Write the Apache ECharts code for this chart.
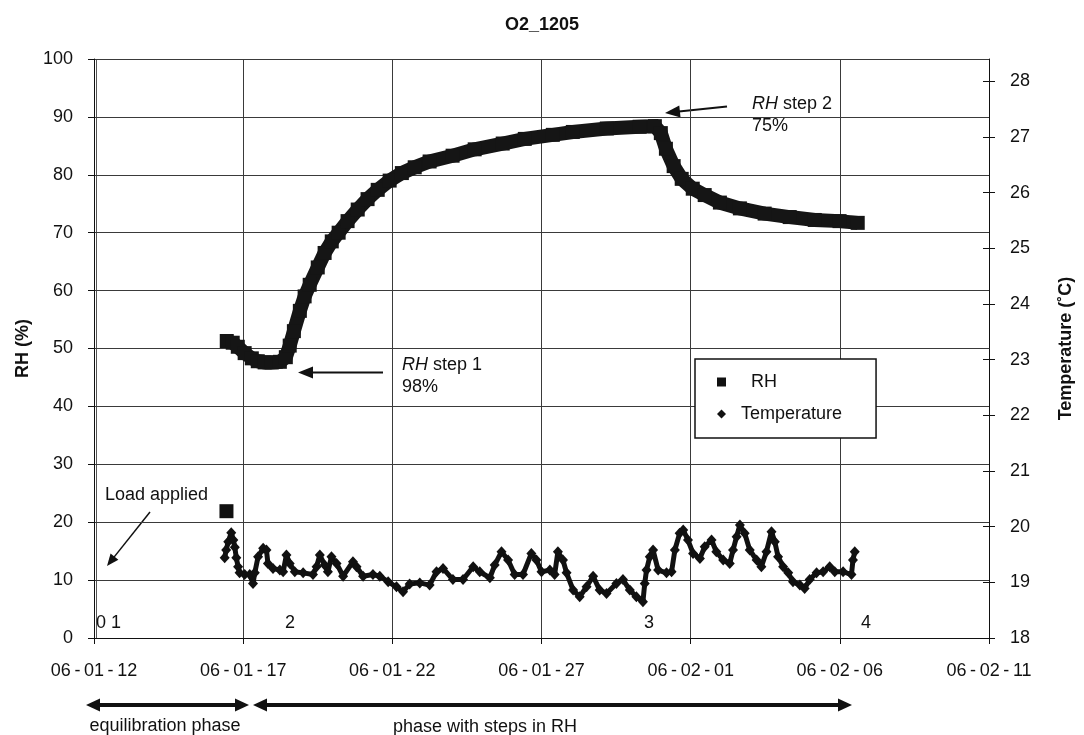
<!DOCTYPE html>
<html>
<head>
<meta charset="utf-8">
<title>O2_1205</title>
<script src="https://cdn.jsdelivr.net/npm/echarts@6/dist/echarts.min.js"></script>
<style>
  html, body { margin: 0; padding: 0; background: #fff; }
  #chart { width: 1084px; height: 735px; }
</style>
</head>
<body>
<div id="chart"></div>
<script>
// Date ticks every 5 days, starting 2006-01-12 (x values are days since that date)
const xTickLabels = ['06-01-12', '06-01-17', '06-01-22', '06-01-27', '06-02-01', '06-02-06', '06-02-11'];
const rhTicks = [0, 10, 20, 30, 40, 50, 60, 70, 80, 90, 100];
const tempTicks = [18, 19, 20, 21, 22, 23, 24, 25, 26, 27, 28];

// Relative humidity (%) in the specimen
const rhDays = [4.45, 4.65, 4.82, 5.05, 5.29, 5.49, 5.72, 5.96, 6.23, 6.43, 6.56, 6.70, 6.90, 7.06,
  7.23, 7.50, 7.73, 7.97, 8.20, 8.50, 8.84, 9.17, 9.51, 9.91, 10.32, 10.75, 11.25, 12.02, 12.76,
  13.70, 14.44, 15.38, 16.05, 17.19, 18.29, 18.80, 19.00, 19.17, 19.43, 19.70, 20.07, 20.47,
  20.98, 21.65, 22.48, 23.32, 24.16, 24.99, 25.60];
const rhValues = [51.3, 51.0, 50.3, 49.2, 48.3, 47.8, 47.6, 47.6, 47.7, 48.5, 50.5, 53.0, 56.5, 59.0,
  61.0, 64.0, 66.5, 68.5, 70.0, 72.0, 74.0, 75.8, 77.4, 79.0, 80.3, 81.3, 82.3, 83.3, 84.4,
  85.4, 86.2, 86.9, 87.4, 88.0, 88.3, 88.4, 87.2, 84.5, 81.5, 79.3, 77.6, 76.5,
  75.2, 74.2, 73.3, 72.7, 72.2, 72.0, 71.7];

// Single reading taken when the load was applied
const rhLoadDays = [4.44];
const rhLoadValues = [21.9];

// Temperature (°C)
const tempDays = [4.38, 4.43, 4.50, 4.60, 4.67, 4.72, 4.77, 4.83, 4.88, 5.05, 5.22, 5.33, 5.39, 5.50,
  5.67, 5.78, 5.83, 6.00, 6.23, 6.34, 6.45, 6.56, 6.73, 7.01, 7.34, 7.46, 7.57, 7.73, 7.84, 7.96,
  8.13, 8.35, 8.68, 8.80, 9.02, 9.35, 9.58, 9.86, 10.14, 10.36, 10.58, 10.92, 11.25, 11.48, 11.70,
  12.03, 12.37, 12.71, 12.93, 13.27, 13.43, 13.66, 13.88, 14.10, 14.38, 14.66, 14.83, 15.00, 15.28,
  15.44, 15.55, 15.72, 15.84, 16.06, 16.28, 16.51, 16.73, 16.95, 17.18, 17.51, 17.73, 17.96, 18.18,
  18.40, 18.46, 18.52, 18.63, 18.74, 18.91, 19.19, 19.36, 19.47, 19.63, 19.75, 19.91, 20.08, 20.31,
  20.47, 20.70, 20.86, 21.09, 21.31, 21.42, 21.54, 21.65, 21.81, 21.98, 22.21, 22.37, 22.54, 22.71,
  22.82, 22.93, 23.10, 23.27, 23.43, 23.66, 23.82, 23.99, 24.22, 24.44, 24.66, 24.83, 25.11, 25.39,
  25.44, 25.50];
const tempValues = [19.44, 19.58, 19.73, 19.89, 19.76, 19.63, 19.44, 19.28, 19.17, 19.14, 19.14, 18.98, 19.17, 19.46,
  19.61, 19.58, 19.34, 19.25, 19.22, 19.19, 19.49, 19.34, 19.19, 19.17, 19.14, 19.28, 19.49, 19.31, 19.19, 19.46,
  19.34, 19.11, 19.37, 19.28, 19.11, 19.14, 19.11, 19.01, 18.92, 18.83, 18.97, 18.99, 18.95, 19.19, 19.25,
  19.05, 19.05, 19.28, 19.19, 19.08, 19.31, 19.55, 19.40, 19.14, 19.14, 19.52, 19.40, 19.19, 19.22,
  19.14, 19.55, 19.40, 19.17, 18.86, 18.74, 18.92, 19.11, 18.86, 18.80, 18.98, 19.05, 18.86, 18.74,
  18.65, 18.98, 19.22, 19.46, 19.58, 19.22, 19.17, 19.19, 19.58, 19.88, 19.94, 19.76, 19.52, 19.43,
  19.64, 19.76, 19.55, 19.40, 19.34, 19.58, 19.82, 20.03, 19.88, 19.58, 19.40, 19.28, 19.55, 19.91,
  19.73, 19.46, 19.28, 19.17, 19.01, 18.95, 18.89, 19.05, 19.17, 19.19, 19.28, 19.19, 19.19, 19.14,
  19.40, 19.55];

const FONT = "'Liberation Sans', Arial, Helvetica, sans-serif";
const INK = '#111';

const zip = (xs, ys) => xs.map((x, i) => [x, ys[i]]);
const spacedDate = s => s.replace(/-/g, '\u2009-\u2009');

// Straight arrow with a filled head at (x2, y2); optional head at the start too
function arrow(x1, y1, x2, y2, width, headLen, headHalf, bothEnds) {
  const dx = x2 - x1, dy = y2 - y1, len = Math.hypot(dx, dy);
  const ux = dx / len, uy = dy / len, nx = -uy, ny = ux;
  const head = (tx, ty, sx, sy) => {
    const bx = tx - sx * headLen, by = ty - sy * headLen;
    return {
      type: 'polygon', silent: true,
      shape: { points: [[tx, ty], [bx + nx * headHalf, by + ny * headHalf], [bx - nx * headHalf, by - ny * headHalf]] },
      style: { fill: INK }
    };
  };
  const sx = bothEnds ? x1 + ux * (headLen - 1) : x1;
  const sy = bothEnds ? y1 + uy * (headLen - 1) : y1;
  const els = [
    { type: 'line', silent: true,
      shape: { x1: sx, y1: sy, x2: x2 - ux * (headLen - 1), y2: y2 - uy * (headLen - 1) },
      style: { stroke: INK, lineWidth: width } },
    head(x2, y2, ux, uy)
  ];
  if (bothEnds) els.push(head(x1, y1, -ux, -uy));
  return els;
}

function label(x, y, text, align) {
  return {
    type: 'text', silent: true, x: x, y: y,
    style: { text: text, font: '18px ' + FONT, fill: INK, align: align || 'left', verticalAlign: 'middle' }
  };
}

const stepRich = { i: { fontStyle: 'italic', fontSize: 18, fontFamily: FONT } };

const graphics = [
  // inner frame line alongside the RH axis
  { type: 'line', silent: true, shape: { x1: 96.5, y1: 59, x2: 96.5, y2: 638 },
    style: { stroke: '#555', lineWidth: 1 } },
  // sensor event markers along the bottom
  label(96, 623, '0 1'),
  label(285, 623, '2'),
  label(644, 623, '3'),
  label(861, 623, '4'),
  // load annotation
  label(105, 495, 'Load applied'),
  ...arrow(150, 512, 107, 566, 1.5, 12, 5, false),
  // RH steps
  { type: 'text', silent: true, x: 402, y: 354,
    style: { text: '{i|RH} step 1\n98%', font: '18px ' + FONT, fill: INK, lineHeight: 22, rich: stepRich } },
  ...arrow(383, 372.5, 298, 372.5, 2, 15, 6, false),
  { type: 'text', silent: true, x: 752, y: 93,
    style: { text: '{i|RH} step 2\n75%', font: '18px ' + FONT, fill: INK, lineHeight: 22, rich: stepRich } },
  ...arrow(727, 106.5, 665, 113, 2, 15, 6, false),
  // test phases
  ...arrow(86, 705, 249, 705, 4, 14, 6.5, true),
  ...arrow(253, 705, 852, 705, 4, 14, 6.5, true),
  label(165, 726, 'equilibration phase', 'center'),
  label(485, 727, 'phase with steps in RH', 'center')
];

const chart = echarts.init(document.getElementById('chart'), null, { renderer: 'canvas' });

chart.setOption({
  animation: false,
  backgroundColor: '#fff',
  textStyle: { fontFamily: FONT, color: INK },
  title: {
    text: 'O2_1205', left: 'center', top: 11,
    textStyle: { fontFamily: FONT, fontSize: 18, fontWeight: 'bold', color: INK }
  },
  legend: {
    left: 695, top: 359, orient: 'vertical',
    padding: [13, 34, 14, 22], itemGap: 12,
    itemWidth: 9, itemHeight: 9,
    backgroundColor: '#fff', borderColor: INK, borderWidth: 1.5,
    selectedMode: false,
    textStyle: { fontFamily: FONT, fontSize: 18, color: INK, lineHeight: 20 },
    formatter: name => (name === 'RH' ? '    RH' : '  ' + name),
    data: [
      { name: 'RH', icon: 'rect', itemStyle: { color: INK } },
      { name: 'Temperature', icon: 'diamond', itemStyle: { color: INK } }
    ]
  },
  grid: { left: 94, right: 95, top: 59, bottom: 97, containLabel: false, outerBoundsMode: 'none' },
  xAxis: {
    type: 'value', min: 0, max: 30, interval: 5,
    axisLine: { show: true, onZero: false, lineStyle: { color: INK, width: 1 } },
    axisTick: { show: true, length: 6, lineStyle: { color: INK } },
    axisLabel: {
      margin: 24, fontSize: 18, fontFamily: FONT, color: INK,
      formatter: v => spacedDate(xTickLabels[Math.round(v / 5)] || '')
    },
    splitLine: { show: true, lineStyle: { color: '#3a3a3a', width: 1 } }
  },
  yAxis: [
    {
      type: 'value', min: 0, max: 100, interval: 10, position: 'left',
      name: 'RH (%)', nameLocation: 'middle', nameGap: 48, nameRotate: 90,
      nameTextStyle: { fontFamily: FONT, fontSize: 18, fontWeight: 'bold', color: INK },
      axisLine: { show: true, lineStyle: { color: INK, width: 1 } },
      axisTick: { show: true, length: 6, lineStyle: { color: INK } },
      axisLabel: { margin: 21, fontSize: 18, fontFamily: FONT, color: INK, customValues: rhTicks },
      splitLine: { show: true, lineStyle: { color: '#3a3a3a', width: 1 } }
    },
    {
      type: 'value', min: 18, max: 28.4, interval: 1, position: 'right',
      name: 'Temperature (˚C)', nameLocation: 'middle', nameGap: 68, nameRotate: 90,
      nameTextStyle: { fontFamily: FONT, fontSize: 18, fontWeight: 'bold', color: INK },
      axisLine: { show: true, lineStyle: { color: INK, width: 1 } },
      axisTick: { show: true, length: 6, lineStyle: { color: INK }, customValues: tempTicks },
      axisLabel: { margin: 21, fontSize: 18, fontFamily: FONT, color: INK, customValues: tempTicks,
        formatter: v => (Number.isInteger(v) ? String(v) : '') },
      splitLine: { show: false }
    },
    {
      // inner half of the crossing ticks on the temperature axis
      type: 'value', min: 18, max: 28.4, interval: 1, position: 'right',
      axisLine: { show: false },
      axisTick: { show: true, inside: true, length: 6, lineStyle: { color: INK }, customValues: tempTicks },
      axisLabel: { show: false },
      splitLine: { show: false }
    }
  ],
  series: [
    {
      name: 'Temperature', type: 'line', yAxisIndex: 1,
      data: zip(tempDays, tempValues),
      symbol: 'diamond', symbolSize: [10, 11], showSymbol: true,
      itemStyle: { color: INK, opacity: 1 },
      lineStyle: { color: INK, width: 5 },
      silent: true, z: 3
    },
    {
      name: 'RH', type: 'line', yAxisIndex: 0,
      data: zip(rhDays, rhValues),
      symbol: 'rect', symbolSize: 14, showSymbol: true,
      itemStyle: { color: '#151515', opacity: 1 },
      lineStyle: { color: '#151515', width: 14, join: 'miter' },
      silent: true, z: 4
    },
    {
      name: 'RH', type: 'scatter', yAxisIndex: 0,
      data: zip(rhLoadDays, rhLoadValues),
      symbol: 'rect', symbolSize: 14,
      itemStyle: { color: INK, opacity: 1 },
      silent: true, z: 4
    }
  ],
  graphic: graphics
});
</script>
</body>
</html>
